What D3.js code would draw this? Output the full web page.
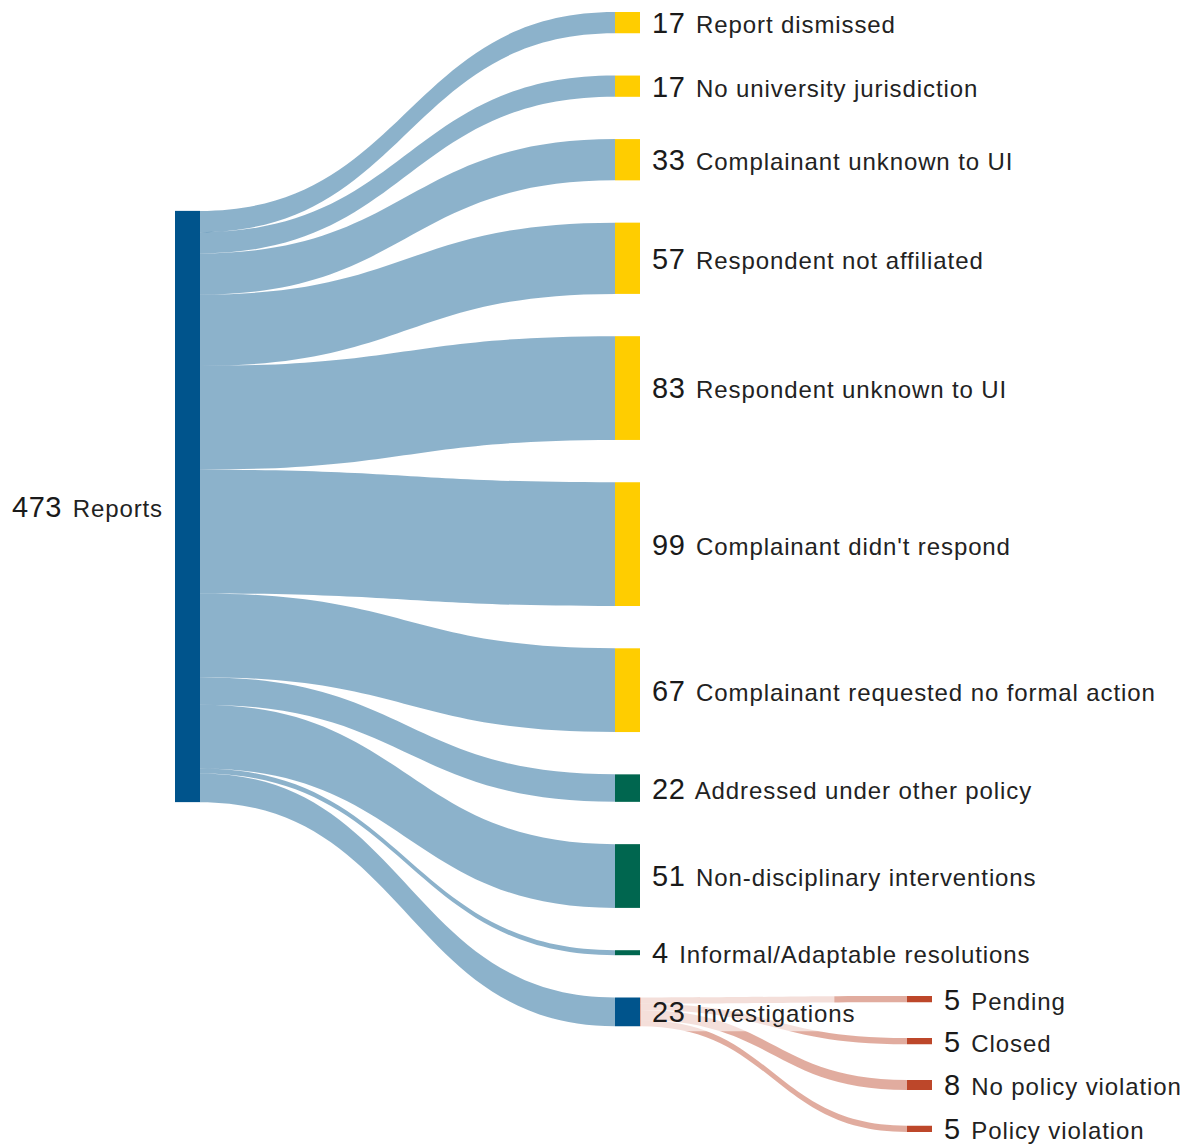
<!DOCTYPE html>
<html>
<head>
<meta charset="utf-8">
<title>Report outcomes</title>
<script src="https://cdn.jsdelivr.net/npm/d3@7"></script>
<style>
  html, body { margin: 0; padding: 0; background: #fff; }
  svg { display: block; }
  text { font-family: "Liberation Sans", Arial, Helvetica, sans-serif; fill: #222; }
</style>
</head>
<body>
<svg id="chart" width="1184" height="1144"></svg>
<script>
// ---- data ----
const sourceLabel = "Reports";

const outcomeLabels = [
  "Report dismissed",
  "No university jurisdiction",
  "Complainant unknown to UI",
  "Respondent not affiliated",
  "Respondent unknown to UI",
  "Complainant didn't respond",
  "Complainant requested no formal action",
  "Addressed under other policy",
  "Non-disciplinary interventions",
  "Informal/Adaptable resolutions",
  "Investigations"
];
const outcomeCounts = [17, 17, 33, 57, 83, 99, 67, 22, 51, 4, 23];
const outcomeGroups = [
  "closed", "closed", "closed", "closed", "closed", "closed", "closed",
  "resolved", "resolved", "resolved",
  "investigation"
];

const investigationLabels = ["Pending", "Closed", "No policy violation", "Policy violation"];
const investigationCounts = [5, 5, 8, 5];

// ---- styling / layout ----
const groupColor = {
  source: "#00548c",
  closed: "#ffcd00",
  resolved: "#00664f",
  investigation: "#00548c",
  finding: "#bd472a"
};
const linkOpacity = 0.45;
const nodeWidth = 25;
const columnX = [175, 615, 907];
const columnTop = [null, 12, 996];
const columnPad = [0, 42.3, 35.75];

const svg = d3.select("#chart");
const total = d3.sum(outcomeCounts);

// vertical scale: reports -> pixels
const ky = d3.scaleLinear().domain([0, total]).range([0, 591.25]);

// ---- build nodes ----
function stackColumn(col, labels, values, groups, top) {
  let y = top;
  return labels.map((name, i) => {
    const h = ky(values[i]);
    const n = { name, value: values[i], group: groups[i], x0: columnX[col], x1: columnX[col] + nodeWidth, y0: y, y1: y + h, out: 0, inn: 0 };
    y += h + columnPad[col];
    return n;
  });
}

const srcH = ky(total);
const srcTop = 506.5 - srcH / 2;
const sourceNode = { name: sourceLabel, value: total, group: "source", x0: columnX[0], x1: columnX[0] + nodeWidth, y0: srcTop, y1: srcTop + srcH, out: 0, inn: 0 };
const outcomeNodes = stackColumn(1, outcomeLabels, outcomeCounts, outcomeGroups, columnTop[1]);
const investigationNode = outcomeNodes[outcomeNodes.length - 1];
const findingNodes = stackColumn(2, investigationLabels, investigationCounts, investigationLabels.map(() => "finding"), columnTop[2]);

// ---- build links ----
const links = [];
outcomeNodes.forEach(t => links.push({ source: sourceNode, target: t, value: t.value }));
findingNodes.forEach(t => links.push({ source: investigationNode, target: t, value: t.value }));
links.forEach(l => {
  const w = ky(l.value);
  l.sy0 = l.source.y0 + l.source.out; l.source.out += w; l.sy1 = l.sy0 + w;
  l.ty0 = l.target.y0 + l.target.inn; l.target.inn += w; l.ty1 = l.ty0 + w;
});

function band(l) {
  const x0 = l.source.x1, x1 = l.target.x0, xm = (x0 + x1) / 2;
  const p = d3.path();
  p.moveTo(x0, l.sy0);
  p.bezierCurveTo(xm, l.sy0, xm, l.ty0, x1, l.ty0);
  p.lineTo(x1, l.ty1);
  p.bezierCurveTo(xm, l.ty1, xm, l.sy1, x0, l.sy1);
  p.closePath();
  return p.toString();
}

svg.append("g").attr("class", "links")
  .selectAll("path").data(links).join("path")
  .attr("d", band)
  .attr("fill", l => l.source === sourceNode ? groupColor.source : groupColor.finding)
  .attr("fill-opacity", linkOpacity);

// ---- labels ----
const allNodes = [sourceNode, ...outcomeNodes, ...findingNodes];

// soft backdrop behind the Investigations label
const backdrop = svg.append("rect").attr("fill", "#fff").attr("fill-opacity", 0.62);

svg.append("g").attr("class", "nodes")
  .selectAll("rect").data(allNodes).join("rect")
  .attr("x", d => d.x0).attr("y", d => d.y0)
  .attr("width", d => d.x1 - d.x0).attr("height", d => Math.max(1, d.y1 - d.y0))
  .attr("fill", d => groupColor[d.group]);

const labels = svg.append("g").attr("class", "labels")
  .selectAll("text").data(allNodes).join("text")
  .attr("x", d => d === sourceNode ? d.x0 - 12 : d.x1 + 12)
  .attr("y", d => (d.y0 + d.y1) / 2 + 10.4)
  .attr("text-anchor", d => d === sourceNode ? "end" : "start");

labels.append("tspan")
  .attr("font-size", 29).attr("letter-spacing", 0.6).attr("fill", "#1a1a1a")
  .text(d => d.value);
labels.append("tspan")
  .attr("font-size", 24).attr("letter-spacing", 0.9).attr("dx", 3)
  .text(d => " " + d.name);

const invLabel = labels.filter(d => d === investigationNode).node().getBBox();
backdrop
  .attr("x", investigationNode.x1 + 1)
  .attr("y", investigationNode.y0 - 3)
  .attr("width", invLabel.x + invLabel.width - investigationNode.x1 - 22)
  .attr("height", investigationNode.y1 - investigationNode.y0 + 8);
</script>
</body>
</html>
